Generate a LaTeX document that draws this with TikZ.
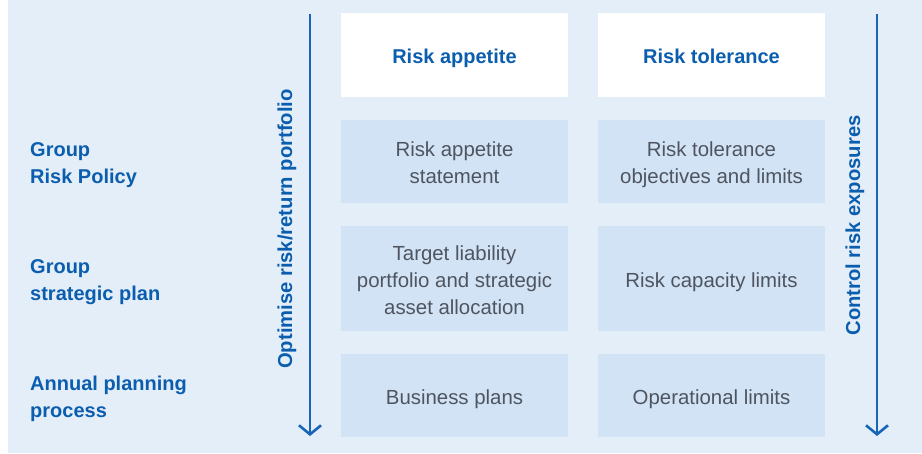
\documentclass[tikz,border=0pt]{standalone}
\usepackage{fontspec}
\setmainfont{Liberation Sans}
\usetikzlibrary{arrows.meta, positioning}

\definecolor{panelblue}{HTML}{E4EEF9}
\definecolor{cellblue}{HTML}{D1E3F4}
\definecolor{headblue}{HTML}{0B5EAE}
\definecolor{arrowblue}{HTML}{1765B6}
\definecolor{bodygray}{HTML}{4F5560}

\tikzset{
  headcell/.style={fill=white, minimum width=227pt, minimum height=84pt},
  riskcell/.style={fill=cellblue, minimum width=227pt},
  headtext/.style={yshift=-3pt, text depth=4.4pt,
    font=\fontsize{20}{27}\selectfont\bfseries, text=headblue},
  celltext/.style={yshift=-3.5pt, text depth=4.4pt, align=center,
    font=\fontsize{20.4}{27}\selectfont, text=bodygray},
  rowlabel/.style={anchor=west, align=left,
    font=\fontsize{20}{27}\selectfont\bfseries, text=headblue},
  sidelabel/.style={rotate=90,
    font=\fontsize{20.2}{27}\selectfont\bfseries, text=headblue},
  flow/.style={draw=arrowblue, line width=2.6pt,
    -{Straight Barb[length=9pt, width=22pt, line width=2.6pt]}}
}

\begin{document}
\begin{tikzpicture}[x=1pt, y=-1pt, inner sep=0pt]
\useasboundingbox (0,0) rectangle (922,453);
\fill[panelblue] (8,0) rectangle (922,453);
\node[headcell] (apphead) at (454.5,55) {};
\node[headcell] (tolhead) at (711.5,55) {};
\node[riskcell, minimum height=83pt] (appstmt) at (454.5,161.5) {};
\node[riskcell, minimum height=83pt] (tolobj) at (711.5,161.5) {};
\node[riskcell, minimum height=105pt] (appalloc) at (454.5,278.5) {};
\node[riskcell, minimum height=105pt] (tolcap) at (711.5,278.5) {};
\node[riskcell, minimum height=83pt] (appplans) at (454.5,395.5) {};
\node[riskcell, minimum height=83pt] (tolops) at (711.5,395.5) {};
\node[headtext] (appheadtext) at (apphead) {Risk appetite};
\node[headtext] (tolheadtext) at (tolhead) {Risk tolerance};
\node[celltext] (appstmttext) at (appstmt) {Risk appetite\\statement};
\node[celltext] (tolobjtext) at (tolobj) {Risk tolerance\\objectives and limits};
\node[celltext] (appalloctext) at (appalloc) {Target liability\\portfolio and strategic\\asset allocation};
\node[celltext] (tolcaptext) at (tolcap) {Risk capacity limits};
\node[celltext] (appplanstext) at (appplans) {Business plans};
\node[celltext] (tolopstext) at (tolops) {Operational limits};
\node[rowlabel] (policy) at (30,165) {Group\\Risk Policy};
\node[rowlabel] (strategic) at (30,282) {Group\\strategic plan};
\node[rowlabel] (planning) at (30,399) {Annual planning\\process};
\node[sidelabel] (optimise) at (287,229) {Optimise risk/return portfolio};
\node[sidelabel] (control) at (855,225.5) {Control risk exposures};
\coordinate (opttop) at (310,14);
\coordinate (optend) at (310,436);
\coordinate (ctrltop) at (877,14);
\coordinate (ctrlend) at (877,436);
\draw[flow] (opttop) -- (optend);
\draw[flow] (ctrltop) -- (ctrlend);
\end{tikzpicture}
\end{document}
